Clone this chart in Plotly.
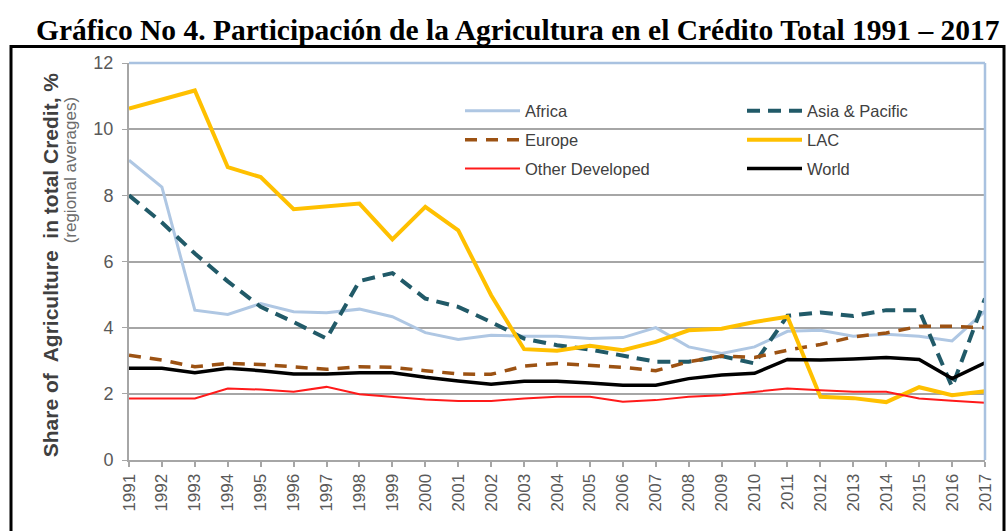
import plotly.graph_objects as go

years = list(range(1991, 2018))

africa = [9.06, 8.25, 4.53, 4.40, 4.73, 4.48, 4.45, 4.56, 4.33, 3.85, 3.64, 3.77, 3.74,
          3.74, 3.67, 3.70, 4.00, 3.42, 3.22, 3.42, 3.89, 3.92, 3.74, 3.80, 3.74, 3.60, 4.50]
asia_pacific = [8.00, 7.18, 6.24, 5.40, 4.63, 4.17, 3.67, 5.41, 5.65, 4.88, 4.63, 4.17, 3.67,
                3.47, 3.34, 3.17, 2.97, 2.97, 3.14, 2.92, 4.36, 4.46, 4.35, 4.53, 4.53, 2.21, 4.88]
europe = [3.17, 3.02, 2.82, 2.92, 2.89, 2.82, 2.74, 2.82, 2.80, 2.70, 2.60, 2.59, 2.84,
          2.92, 2.87, 2.80, 2.70, 2.97, 3.14, 3.10, 3.32, 3.49, 3.72, 3.84, 4.04, 4.04, 4.00]
lac = [10.62, 10.90, 11.17, 8.85, 8.55, 7.58, 7.65, 7.75, 6.67, 7.65, 6.94, 4.98, 3.35,
       3.30, 3.45, 3.32, 3.57, 3.92, 3.97, 4.17, 4.33, 1.91, 1.87, 1.75, 2.20, 1.96, 2.08]
other_developed = [1.86, 1.86, 1.86, 2.16, 2.13, 2.06, 2.21, 1.99, 1.91, 1.83, 1.78, 1.78, 1.86,
                   1.91, 1.91, 1.76, 1.81, 1.91, 1.96, 2.06, 2.16, 2.11, 2.06, 2.06, 1.86, 1.79, 1.73]
world = [2.77, 2.77, 2.64, 2.77, 2.70, 2.60, 2.60, 2.64, 2.64, 2.50, 2.39, 2.29, 2.38,
         2.38, 2.33, 2.26, 2.26, 2.46, 2.57, 2.62, 3.04, 3.02, 3.05, 3.10, 3.04, 2.46, 2.94]

y_ticks = [0, 2, 4, 6, 8, 10, 12]
x_ticktext = [str(y) for y in years]

title_text = "Gráfico No 4. Participación de la Agricultura en el Crédito Total 1991 – 2017"
ytitle_main = "Share of  Agriculture  in total Credit, %"
ytitle_sub = "(regional averages)"

# plot area in pixels: left 129, right 985, top 62.5, bottom 460
PL, PR, PT, PB = 129, 985, 62.5, 460
PW, PH = PR - PL, PB - PT


def px_x(p):
    return (p - PL) / PW


def px_y(p):
    return (PB - p) / PH


fig = go.Figure()

series = [
    ("Africa", africa, dict(color="#AFC7E3", width=3), "legend"),
    ("Asia & Pacific", asia_pacific, dict(color="#215A68", width=4, dash="13px,8px"), "legend2"),
    ("Europe", europe, dict(color="#9C5213", width=3.5, dash="12px,9px"), "legend"),
    ("LAC", lac, dict(color="#FFC000", width=4), "legend2"),
    ("Other Developed", other_developed, dict(color="#FF1A1A", width=2), "legend"),
    ("World", world, dict(color="#000000", width=3.5), "legend2"),
]

for name, vals, line, lg in series:
    fig.add_trace(go.Scatter(x=years, y=vals, mode="lines", name=name, line=line,
                             legend=lg, legendgroup=name))

legend_common = dict(xanchor="left", yanchor="top", bgcolor="rgba(0,0,0,0)",
                     font=dict(size=16.5, color="#404040"), tracegroupgap=4.5,
                     traceorder="grouped", itemwidth=55)

fig.update_layout(
    width=1008, height=531,
    margin=dict(l=PL, r=1008 - PR, t=PT, b=531 - PB, autoexpand=False),
    paper_bgcolor="white", plot_bgcolor="white",
    font=dict(family="Liberation Sans, Arial, sans-serif", color="#595959"),
    showlegend=True,
    legend=dict(x=px_x(460), y=px_y(93), **legend_common),
    legend2=dict(x=px_x(742), y=px_y(93), **legend_common),
    xaxis=dict(range=[1991, 2017], tickvals=years, ticktext=x_ticktext, tickangle=-90,
               showgrid=False, showline=True, linecolor="#A6A6A6", linewidth=2,
               ticks="outside", tickcolor="#A6A6A6", ticklen=5, tickwidth=1.5,
               tickfont=dict(size=17, color="#595959"), zeroline=False, automargin=False),
    yaxis=dict(range=[0, 12], tickvals=y_ticks, showgrid=True, gridcolor="#A6A6A6",
               gridwidth=1.5, showline=True, linecolor="#A6A6A6", linewidth=2,
               ticks="outside", tickcolor="#A6A6A6", ticklen=5, ticklabelstandoff=5,
               tickfont=dict(size=18, color="#595959"), zeroline=False, automargin=False),
)

# top and right border of the plot area (light blue)
fig.add_shape(type="line", xref="paper", yref="paper", x0=0, x1=1, y0=1, y1=1,
              line=dict(color="#A9C2E0", width=2.5))
fig.add_shape(type="line", xref="paper", yref="paper", x0=1, x1=1, y0=0, y1=1,
              line=dict(color="#A9C2E0", width=2.5))
# outer black frame
fig.add_shape(type="rect", xref="paper", yref="paper", x0=px_x(11), x1=px_x(1004),
              y0=px_y(600), y1=px_y(46), line=dict(color="black", width=3), layer="above")

fig.add_annotation(text="<b>" + title_text + "</b>", xref="paper", yref="paper",
                   x=px_x(518), y=px_y(29), xanchor="center", yanchor="middle", showarrow=False,
                   font=dict(family="Liberation Serif, Times New Roman, serif", size=29.5,
                             color="black"))

fig.add_annotation(text="<b>" + ytitle_main + "</b>", xref="paper", yref="paper",
                   x=px_x(50), y=px_y(265), xanchor="center", yanchor="middle",
                   showarrow=False, textangle=-90,
                   font=dict(size=21, color="#404040"))
fig.add_annotation(text=ytitle_sub, xref="paper", yref="paper",
                   x=px_x(70), y=px_y(170), xanchor="center", yanchor="middle",
                   showarrow=False, textangle=-90,
                   font=dict(size=17, color="#6b6b6b"))

fig.write_html("out.html", config={"displayModeBar": False},
               post_script="document.body.style.margin='0';")
